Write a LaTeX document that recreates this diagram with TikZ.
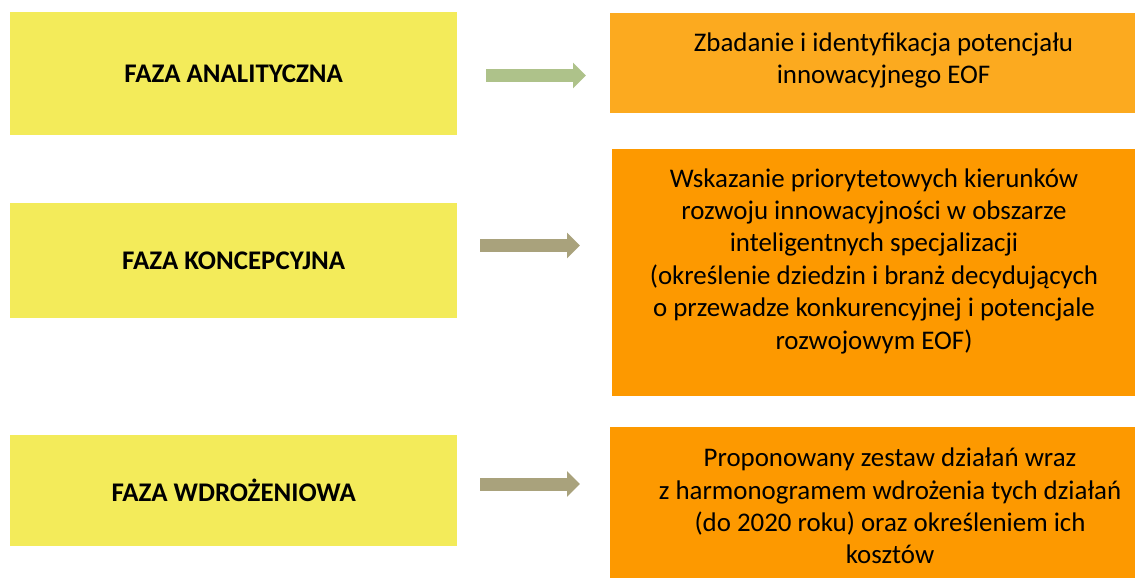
\documentclass[tikz,border=0pt]{standalone}
\usepackage{fontspec}
\setmainfont{Carlito}
\usetikzlibrary{arrows.meta}
\definecolor{phaseyellow}{HTML}{F3EB5A}
\definecolor{outorange}{HTML}{FCAA1F}
\definecolor{outorangeB}{HTML}{FD9900}
\definecolor{arrgreen}{HTML}{AEC28A}
\definecolor{arrkhaki}{HTML}{A9A27C}
\begin{document}
\begin{tikzpicture}[x=1pt,y=-1pt,
  phasebox/.style={fill=phaseyellow, draw=none, anchor=north west, inner sep=0pt,
    font=\fontsize{26.9}{32.4}\selectfont\bfseries},
  outbox/.style={draw=none, anchor=north west, inner sep=0pt},
  outtext/.style={align=center, inner sep=0pt, font=\fontsize{26.9}{32.4}\selectfont},
  flowarrow/.style={line width=13pt, -{Triangle[length=13pt,width=25pt]}}
]
\useasboundingbox (0,0) rectangle (1135,578);
% phase boxes
\node[phasebox, minimum width=447pt, minimum height=123pt] (y1) at (10,12) {FAZA ANALITYCZNA};
\node[phasebox, minimum width=447pt, minimum height=115pt] (y2) at (10,203) {FAZA KONCEPCYJNA};
\node[phasebox, minimum width=447pt, minimum height=111pt] (y3) at (10,435) {FAZA WDROŻENIOWA};
% output boxes
\node[outbox, fill=outorange, minimum width=525pt, minimum height=100pt] (o1) at (610,13) {};
\node[outbox, fill=outorangeB, minimum width=523pt, minimum height=247pt] (o2) at (612,149) {};
\node[outbox, fill=outorangeB, minimum width=525pt, minimum height=151pt] (o3) at (610,427) {};
% output texts
\node[outtext] (t1) at (883.5,60.5) {Zbadanie i identyfikacja potencjału\\innowacyjnego EOF};
\node[outtext] (t2) at (874,261) {Wskazanie priorytetowych kierunków\\rozwoju innowacyjności w obszarze\\inteligentnych specjalizacji\\(określenie dziedzin i branż decydujących\\o przewadze konkurencyjnej i potencjale\\rozwojowym EOF)};
\node[outtext] (t3) at (890,506) {Proponowany zestaw działań wraz\\z harmonogramem wdrożenia tych działań\\(do 2020 roku) oraz określeniem ich\\kosztów};
% arrows
\coordinate (a1s) at (486,75.5);
\coordinate (a1e) at (586,75.5);
\coordinate (a2s) at (480,245.5);
\coordinate (a2e) at (580,245.5);
\coordinate (a3s) at (480,484);
\coordinate (a3e) at (580,484);
\draw[flowarrow, draw=arrgreen, fill=arrgreen] (a1s) -- (a1e);
\draw[flowarrow, draw=arrkhaki, fill=arrkhaki] (a2s) -- (a2e);
\draw[flowarrow, draw=arrkhaki, fill=arrkhaki] (a3s) -- (a3e);
\end{tikzpicture}
\end{document}
